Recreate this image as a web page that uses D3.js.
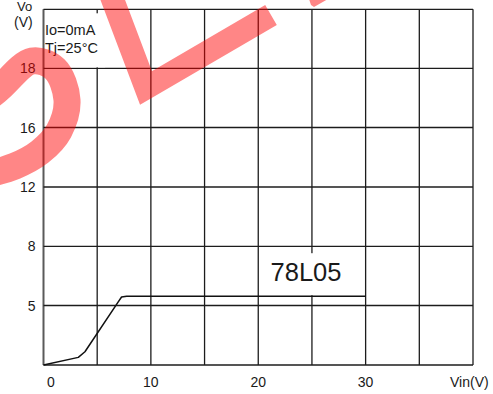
<!DOCTYPE html>
<html>
<head>
<meta charset="utf-8">
<script src="https://cdn.jsdelivr.net/npm/d3@7"></script>
<style>
  html, body { margin: 0; padding: 0; background: #fff; }
  svg { display: block; }
  text { font-family: "Liberation Sans", Arial, sans-serif; fill: #1a1a1a; }
</style>
</head>
<body>
<svg id="chart" width="493" height="394"></svg>
<script>
// Output voltage vs input voltage, 78L05, Io = 0 mA, Tj = 25 °C
const vin = [0, 3.24, 3.86, 6.96, 7.27, 7.74, 30];
const vo  = [0, 0.64, 1.11, 5.18, 5.43, 5.47, 5.47];

// Grid positions (the Vo axis is drawn with uneven steps)
const xGridValues = [0, 5, 10, 15, 20, 25, 30, 35, 40];
const xTickValues = [0, 10, 20, 30];
const yGridValues = [0, 5, 8, 12, 16, 18, 20];
const yTickValues = [5, 8, 12, 16, 18];

const deviceName = "78L05";
const conditions = ["Io=0mA", "Tj=25°C"];

const svg = d3.select("#chart");

const x = d3.scaleLinear().domain([0, 40]).range([43.5, 473]);
// piecewise-linear scale: each labelled step gets an equal grid row
const y = d3.scaleLinear()
  .domain(yGridValues)
  .range([365, 305.5, 246.3, 187, 127.5, 68.3, 9.3]);

const grid = svg.append("g");

// vertical grid lines
grid.selectAll("line.v")
  .data(xGridValues)
  .join("line")
  .attr("x1", d => x(d)).attr("x2", d => x(d))
  .attr("y1", y(20)).attr("y2", y(0))
  .attr("stroke", (d, i) => (i === 0 ? "#5a5a5a" : "#1c1c1c"))
  .attr("stroke-width", (d, i) => (i === 0 ? 2 : 1.3));

// horizontal grid lines
grid.selectAll("line.h")
  .data(yGridValues)
  .join("line")
  .attr("x1", x(0)).attr("x2", x(40))
  .attr("y1", d => y(d)).attr("y2", d => y(d))
  .attr("stroke", "#1c1c1c")
  .attr("stroke-width", 1.3);

// white panel behind the test conditions
svg.append("rect")
  .attr("x", x(0) + 1.5).attr("y", y(20) + 4)
  .attr("width", x(5.6) - x(0)).attr("height", y(18) - y(20) - 5)
  .attr("fill", "#fff");

// white panel behind the device name
svg.append("rect")
  .attr("x", x(20.4)).attr("y", y(7.65))
  .attr("width", x(29.6) - x(20.4)).attr("height", y(5.52) - y(7.65))
  .attr("fill", "#fff");

// Vo curve
const line = d3.line()
  .x(d => x(d[0]))
  .y(d => y(d[1]));
svg.append("path")
  .datum(vin.map((v, i) => [v, vo[i]]))
  .attr("d", line)
  .attr("fill", "none")
  .attr("stroke", "#111")
  .attr("stroke-width", 1.5)
  .attr("stroke-linejoin", "round");

// y tick labels
svg.selectAll("text.ytick")
  .data(yTickValues)
  .join("text")
  .attr("class", "ytick")
  .attr("x", 35.5)
  .attr("y", d => y(d) + 5)
  .attr("text-anchor", "end")
  .attr("font-size", 14)
  .text(d => d);

// x tick labels (the zero label sits just inside the frame)
svg.selectAll("text.xtick")
  .data(xTickValues)
  .join("text")
  .attr("class", "xtick")
  .attr("x", d => x(d) + (d === 0 ? 7.5 : 0))
  .attr("y", 387)
  .attr("text-anchor", "middle")
  .attr("font-size", 14)
  .text(d => d);

// axis titles
svg.append("text").attr("x", 450).attr("y", 387).attr("font-size", 14).text("Vin(V)");
svg.append("text").attr("x", 17).attr("y", 11).attr("font-size", 13).text("Vo");
svg.append("text").attr("x", 14).attr("y", 27).attr("font-size", 14).text("(V)");

// test conditions
svg.selectAll("text.cond")
  .data(conditions)
  .join("text")
  .attr("class", "cond")
  .attr("x", 45)
  .attr("y", (d, i) => 35 + i * 18)
  .attr("font-size", 14.5)
  .text(d => d);

// device name
svg.append("text")
  .attr("x", 306).attr("y", 281)
  .attr("text-anchor", "middle")
  .attr("font-size", 25.5)
  .text(deviceName);

// red stamp overlay
const stamp = svg.append("g").attr("opacity", 0.47);
stamp.append("path")
  .attr("d", d3.line().curve(d3.curveCatmullRom)([
    [-12, 98], [0, 88], [32, 61], [55, 69], [67, 100], [59, 131], [40, 152], [15, 166], [-12, 174]
  ]))
  .attr("fill", "none")
  .attr("stroke", "#ff0000")
  .attr("stroke-width", 27);
stamp.append("path")
  .attr("d", d3.line()([[109, -10], [146, 88], [271, 15]]))
  .attr("fill", "none")
  .attr("stroke", "#ff0000")
  .attr("stroke-width", 23)
  .attr("stroke-linejoin", "miter")
  .attr("stroke-miterlimit", 10);
stamp.append("path")
  .attr("d", "M309,-1 L328,-1 L314,7 L311,5 Z")
  .attr("fill", "#ff0000");
</script>
</body>
</html>
